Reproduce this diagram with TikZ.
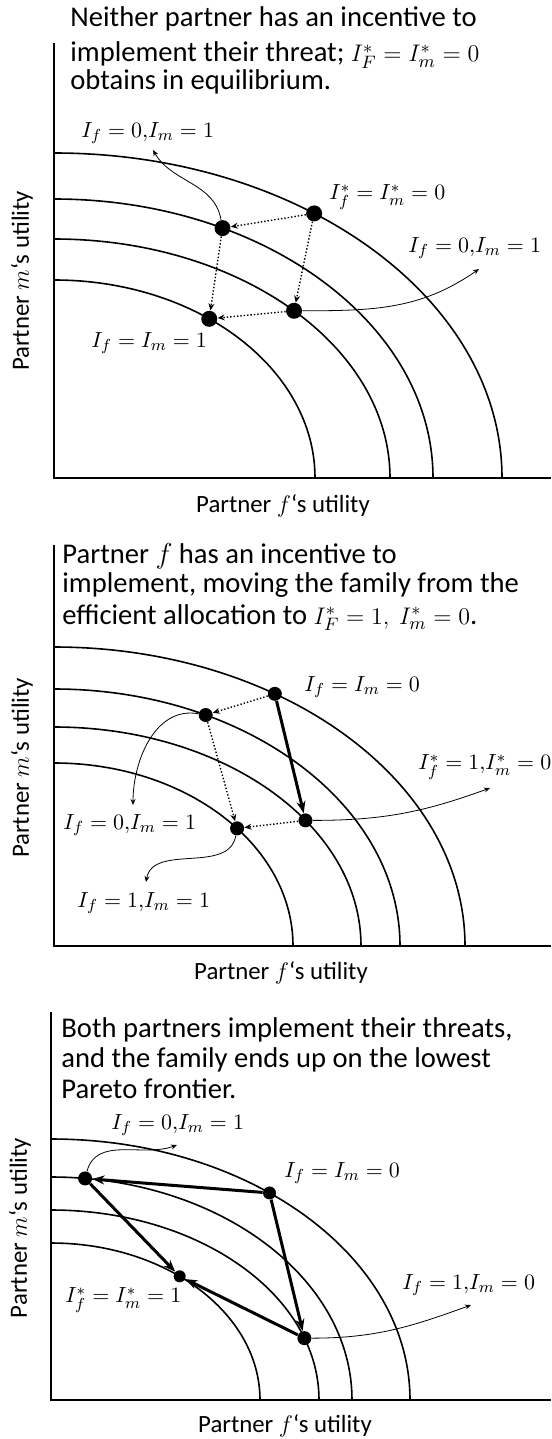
\documentclass[tikz,border=0pt]{standalone}
\usepackage[no-math]{fontspec}
\setmainfont{Carlito}
\usetikzlibrary{arrows.meta}

\newcommand\ttlmath[1]{{\fontsize{12.6}{15}\selectfont\smash{$#1$}}}

\tikzset{
  frontier/.style={line width=0.8pt},
  axis/.style={line width=1pt},
  dot/.style={circle,fill,inner sep=0pt,minimum size=#1},
  dot/.default=8pt,
  move/.style={-{Stealth[length=3.5pt,width=3pt]},densely dotted,line width=0.7pt},
  jump/.style={-{Stealth[length=6pt,width=4.5pt]},line width=1.5pt},
  note/.style={-{Stealth[length=3pt,width=2.5pt]},line width=0.4pt},
  ttl/.style={anchor=base west,inner sep=0pt,font=\fontsize{14.3}{16}\selectfont},
  lbl/.style={anchor=west,inner sep=0pt,font=\fontsize{11.4}{13}\selectfont},
  axlbl/.style={inner sep=0pt,font=\fontsize{12.4}{14}\selectfont}
}

\begin{document}
\begin{tikzpicture}[x=0.5pt,y=0.5pt]
\useasboundingbox (0,0) rectangle (551,-1439);
\clip (0,0) rectangle (551,-1439);

% ---------- panel 1
\node[ttl] (ttlA1) at (70,-27) {Neither partner has an incentive to};
\node[ttl] (ttlA2) at (70,-62) {implement their threat; \ttlmath{I_F^*=I_m^*=0}};
\node[ttl] (ttlA3) at (70,-90) {obtains in equilibrium.};

\coordinate (O1) at (54,-478);
\draw[axis] (54,-43) -- (O1) -- (551,-478);
\foreach \rx/\ry in {448/325,379/279,336/239,261/198}
  \draw[frontier] (O1) ++(0,\ry) arc[start angle=90,end angle=0,x radius=\rx,y radius=\ry];

\path (O1) ++(54.5:448 and 325) node[dot] (A) {};
\path (O1) ++(63.6:379 and 279) node[dot] (B) {};
\path (O1) ++(44.4:336 and 239) node[dot] (D) {};
\path (O1) ++(53.5:261 and 198) node[dot] (C) {};

\draw[move] (A) -- (B);
\draw[move] (A) -- (D);
\draw[move] (B) -- (C);
\draw[move] (D) -- (C);

\node[lbl] (labA) at (81,-133) {$I_f=0{,}I_m=1$};
\node[lbl] (labB) at (329,-197) {$I_f^*=I_m^*=0$};
\node[lbl] (labC) at (408,-248) {$I_f=0{,}I_m=1$};
\node[lbl] (labD) at (91,-343) {$I_f=I_m=1$};

\coordinate (t1) at (153,-150);
\coordinate (t2) at (479,-269);
\draw[note] (B) to[out=100,in=-60] (t1);
\draw[note] (D) to[out=0,in=215] (t2);

\node[axlbl] (xlabA) at (283,-506) {Partner $f$‘s utility};
\node[axlbl,rotate=90] (ylabA) at (22,-281) {Partner $m$‘s utility};

% ---------- panel 2
\node[ttl] (ttlB1) at (62,-563) {Partner $f$ has an incentive to};
\node[ttl] (ttlB2) at (62,-592) {implement, moving the family from the};
\node[ttl] (ttlB3) at (62,-624) {efficient allocation to \ttlmath{I_F^*=1,\ I_m^*=0}.};

\coordinate (O2) at (54,-946);
\draw[axis] (54,-545) -- (O2) -- (551,-946);
\foreach \rx/\ry in {411/299,346/257,307/219,239/183}
  \draw[frontier] (O2) ++(0,\ry) arc[start angle=90,end angle=0,x radius=\rx,y radius=\ry];

\path (O2) ++(57.5:411 and 299) node[dot=7pt] (P) {};
\path (O2) ++(64:346 and 257) node[dot=7pt] (Q) {};
\path (O2) ++(35:307 and 219) node[dot=7pt] (R) {};
\path (O2) ++(40:239 and 183) node[dot=7pt] (S) {};

\draw[move] (P) -- (Q);
\draw[jump] (P) -- (R);
\draw[move] (Q) -- (S);
\draw[move] (R) -- (S);

\node[lbl] (labE) at (304,-687) {$I_f=I_m=0$};
\node[lbl] (labF) at (418,-767) {$I_f^*=1{,}I_m^*=0$};
\node[lbl] (labG) at (63,-825) {$I_f=0{,}I_m=1$};
\node[lbl] (labH) at (77,-903) {$I_f=1{,}I_m=1$};

\coordinate (t3) at (133,-805);
\coordinate (t4) at (146,-882);
\coordinate (t5) at (490,-788);
\draw[note] (Q) to[out=170,in=90] (t3);
\draw[note] (S) to[out=-100,in=80] (t4);
\draw[note] (R) to[out=0,in=200] (t5);

\node[axlbl] (xlabB) at (281,-973) {Partner $f$‘s utility};
\node[axlbl,rotate=90] (ylabB) at (22,-768) {Partner $m$‘s utility};

% ---------- panel 3
\node[ttl] (ttlC1) at (61,-1037) {Both partners implement their threats,};
\node[ttl] (ttlC2) at (61,-1067) {and the family ends up on the lowest};
\node[ttl] (ttlC3) at (61,-1098) {Pareto frontier.};

\coordinate (O3) at (51,-1400);
\draw[axis] (51,-1012) -- (O3) -- (551,-1400);
\foreach \rx/\ry in {359/261,301/223,268/190,209/157}
  \draw[frontier] (O3) ++(0,\ry) arc[start angle=90,end angle=0,x radius=\rx,y radius=\ry];

\path (O3) ++(52.5:359 and 261) node[dot=6.5pt] (T) {};
\path (O3) ++(83.5:301 and 223) node[dot=7pt] (U) {};
\path (O3) ++(19:268 and 190) node[dot=7pt] (W) {};
\path (O3) ++(52:209 and 157) node[dot=6pt] (V) {};

\draw[jump] (T) -- (U);
\draw[jump] (U) -- (V);
\draw[jump] (T) -- (W);
\draw[jump] (W) -- (V);

\node[lbl] (labI) at (111,-1125) {$I_f=0{,}I_m=1$};
\node[lbl] (labJ) at (284,-1173) {$I_f=I_m=0$};
\node[lbl] (labK) at (65,-1300) {$I_f^*=I_m^*=1$};
\node[lbl] (labL) at (402,-1285) {$I_f=1{,}I_m=0$};

\coordinate (t6) at (177,-1145);
\coordinate (t7) at (471,-1305);
\draw[note] (U) to[out=75,in=200] (t6);
\draw[note] (W) to[out=0,in=200] (t7);

\node[axlbl] (xlabC) at (285,-1426) {Partner $f$‘s utility};
\node[axlbl,rotate=90] (ylabC) at (20,-1228) {Partner $m$‘s utility};
\end{tikzpicture}
\end{document}
